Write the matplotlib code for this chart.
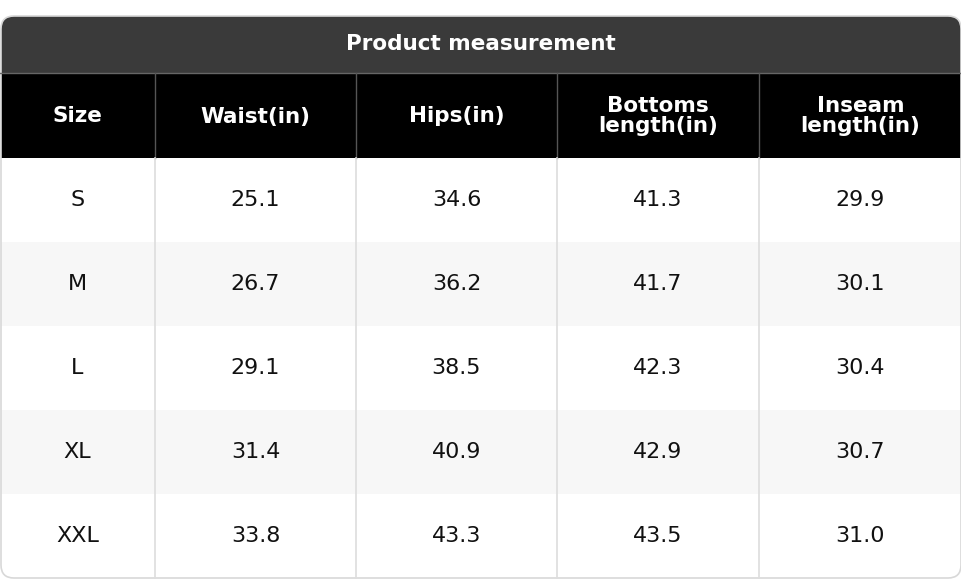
import matplotlib
matplotlib.use("Agg")
import matplotlib.pyplot as plt
from matplotlib.patches import Rectangle, FancyBboxPatch

title = "Product measurement"
columns = ["Size", "Waist(in)", "Hips(in)", "Bottoms\nlength(in)", "Inseam\nlength(in)"]
sizes = ["S", "M", "L", "XL", "XXL"]
waist = ["25.1", "26.7", "29.1", "31.4", "33.8"]
hips = ["34.6", "36.2", "38.5", "40.9", "43.3"]
bottoms = ["41.3", "41.7", "42.3", "42.9", "43.5"]
inseam = ["29.9", "30.1", "30.4", "30.7", "31.0"]
rows = list(zip(sizes, waist, hips, bottoms, inseam))

W, H = 962, 580
fig = plt.figure(figsize=(W/100, H/100), dpi=100)
ax = fig.add_axes([0, 0, 1, 1])
ax.set_xlim(0, W); ax.set_ylim(H, 0); ax.axis("off")

xs = [0, 155, 356, 557, 759, 962]
top, ttl_b, hdr_b, bot = 16, 73, 158, 578
rh = (bot - hdr_b) / len(rows)

clip = FancyBboxPatch((1, top), W-2, bot-top, boxstyle="round,pad=0,rounding_size=13",
                      fc="none", ec="none", transform=ax.transData)
ax.add_patch(clip)

def rect(x, y, w, h, c):
    r = Rectangle((x, y), w, h, fc=c, ec="none")
    ax.add_patch(r); r.set_clip_path(clip)

rect(0, top, W, ttl_b-top, "#3a3a3a")
rect(0, ttl_b, W, hdr_b-ttl_b, "#000000")
for i in range(len(rows)):
    rect(0, hdr_b+i*rh, W, rh, "#ffffff" if i % 2 == 0 else "#f7f7f7")

ax.text(W/2, (top+ttl_b)/2, title, color="white", ha="center", va="center",
        fontsize=15.5, fontweight="bold")
for j, c in enumerate(columns):
    ax.text((xs[j]+xs[j+1])/2, (ttl_b+hdr_b)/2+1, c, color="white", ha="center",
            va="center", fontsize=15.5, fontweight="bold", linespacing=1.0)
for i, r in enumerate(rows):
    for j, v in enumerate(r):
        ax.text((xs[j]+xs[j+1])/2, hdr_b+(i+0.5)*rh, v, color="#111111",
                ha="center", va="center", fontsize=16)

# grid lines
ax.plot([0, W], [ttl_b, ttl_b], color="#666666", lw=1)
for x in xs[1:-1]:
    ax.plot([x, x], [ttl_b, hdr_b], color="#555555", lw=1)
    ax.plot([x, x], [hdr_b, bot], color="#dddddd", lw=1.2)
border = FancyBboxPatch((1, top), W-2, bot-top, boxstyle="round,pad=0,rounding_size=13",
                        fc="none", ec="#d8d8d8", lw=1.2)
ax.add_patch(border)

fig.savefig("out.png", dpi=100, facecolor="white")
